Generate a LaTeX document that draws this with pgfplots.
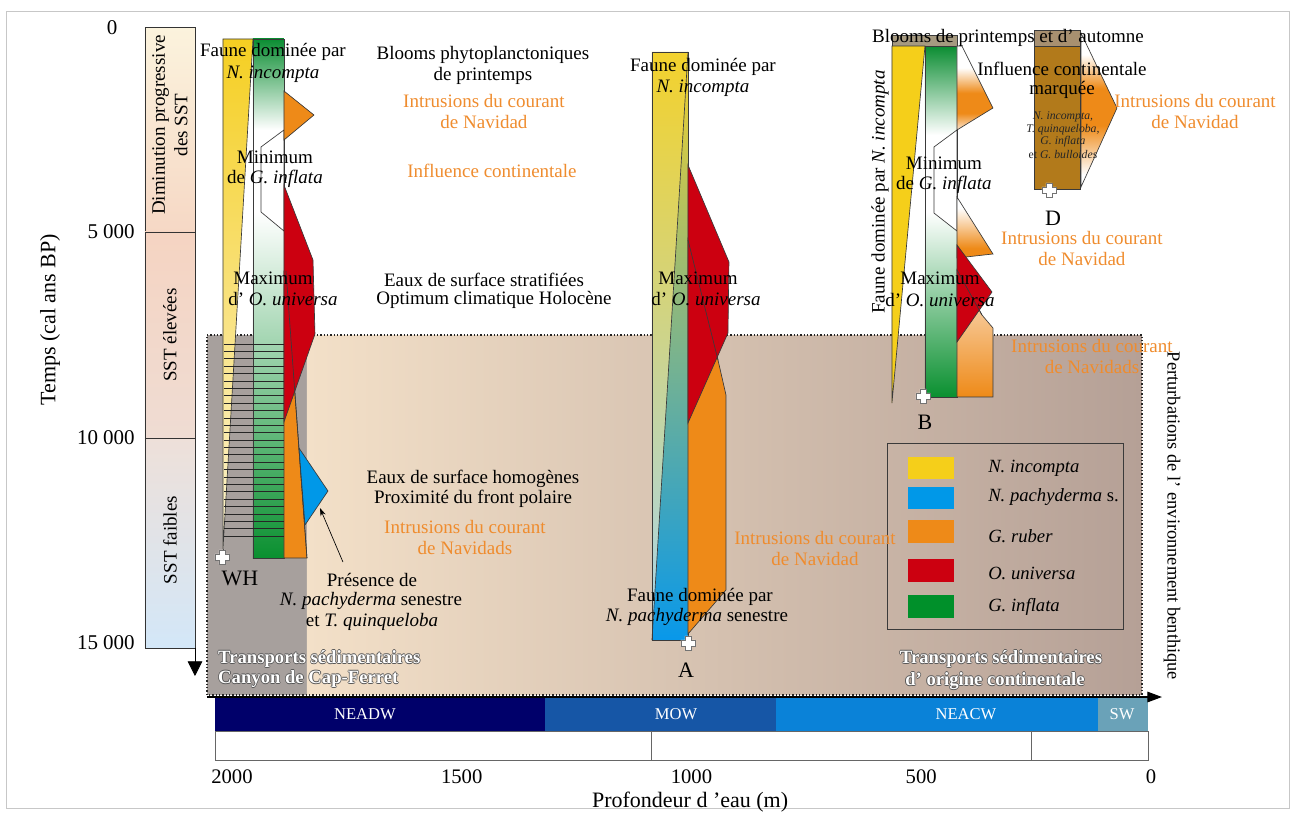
\documentclass[border=0pt]{standalone}
\usepackage{fontspec}
\setmainfont{Liberation Serif}
\usepackage{pgfplots}
\pgfplotsset{compat=1.18}
\usetikzlibrary{arrows.meta}

\definecolor{cyel}{HTML}{F5CF1A}
\definecolor{cblu}{HTML}{0098E8}
\definecolor{cora}{HTML}{EE8A18}
\definecolor{cred}{HTML}{CC0010}
\definecolor{cgrn}{HTML}{00902A}
\definecolor{ctxt}{HTML}{EF8C2E}
\definecolor{cline}{HTML}{3A3A3A}
\definecolor{bgGrey}{HTML}{A7A09D}
\definecolor{bgL}{HTML}{F3E0C8}
\definecolor{bgR}{HTML}{B5A096}
\definecolor{sstA}{HTML}{FBF3DD}
\definecolor{sstB}{HTML}{F6D8C5}
\definecolor{sstC}{HTML}{F5D4C2}
\definecolor{sstD}{HTML}{EFDCD3}
\definecolor{sstE}{HTML}{EEE0D9}
\definecolor{sstF}{HTML}{D3E7F8}
\definecolor{wmA}{HTML}{00006A}
\definecolor{wmB}{HTML}{1656A6}
\definecolor{wmC}{HTML}{0A82D8}
\definecolor{wmD}{HTML}{6AA2B8}
\definecolor{ylTop}{HTML}{F5CF22}
\definecolor{ylBot}{HTML}{FCF3D2}
\definecolor{gTop}{HTML}{0B8D32}
\definecolor{gMid}{HTML}{7CBF93}
\definecolor{gBot}{HTML}{0A9030}
\definecolor{aLa}{HTML}{F3D22C}
\definecolor{aLb}{HTML}{D8DCB2}
\definecolor{aLc}{HTML}{A6D6EE}
\definecolor{aRa}{HTML}{F2D02C}
\definecolor{aRb}{HTML}{84B4AE}
\definecolor{aRc}{HTML}{0898EA}
\definecolor{bBar}{HTML}{A69A80}
\definecolor{oPale}{HTML}{FBE6D2}
\definecolor{oTop}{HTML}{FBE5D0}
\definecolor{oMid}{HTML}{F2A650}
\definecolor{dBar}{HTML}{A89070}
\definecolor{dCol}{HTML}{B27A1B}

% vertical shadings: the path box maps to 25bp (bottom) .. 75bp (top)
\pgfdeclareverticalshading{oBone}{100bp}{color(0bp)=(oPale); color(25bp)=(oPale); color(35bp)=(cora); color(47bp)=(cora); color(62bp)=(white); color(100bp)=(white)}
\pgfdeclareverticalshading{oBtwo}{100bp}{color(0bp)=(cora); color(33bp)=(cora); color(66bp)=(white); color(100bp)=(white)}
\pgfdeclareverticalshading{oD}{100bp}{color(0bp)=(white); color(29bp)=(white); color(45bp)=(cora); color(57bp)=(cora); color(68bp)=(white); color(100bp)=(white)}

% white cross used for the core positions
\pgfdeclareplotmark{wcross}{%
  \pgfpathmoveto{\pgfqpoint{-2.3pt}{-5.3pt}}%
  \pgfpathlineto{\pgfqpoint{2.3pt}{-5.3pt}}%
  \pgfpathlineto{\pgfqpoint{2.3pt}{-2.3pt}}%
  \pgfpathlineto{\pgfqpoint{5.3pt}{-2.3pt}}%
  \pgfpathlineto{\pgfqpoint{5.3pt}{2.3pt}}%
  \pgfpathlineto{\pgfqpoint{2.3pt}{2.3pt}}%
  \pgfpathlineto{\pgfqpoint{2.3pt}{5.3pt}}%
  \pgfpathlineto{\pgfqpoint{-2.3pt}{5.3pt}}%
  \pgfpathlineto{\pgfqpoint{-2.3pt}{2.3pt}}%
  \pgfpathlineto{\pgfqpoint{-5.3pt}{2.3pt}}%
  \pgfpathlineto{\pgfqpoint{-5.3pt}{-2.3pt}}%
  \pgfpathlineto{\pgfqpoint{-2.3pt}{-2.3pt}}%
  \pgfpathclose
  \pgfusepathqfillstroke}

\newcommand{\fm}{\fontsize{14.25}{17}\selectfont}
\newcommand{\fb}{\fontsize{14}{17}\selectfont\bfseries}
\newcommand{\T}[3]{\node[font=\fm,inner sep=0pt] at (axis cs:#1,#2) {#3};}
\newcommand{\TO}[3]{\node[font=\fm,inner sep=0pt,text=ctxt] at (axis cs:#1,#2) {#3};}
\newcommand{\TW}[4]{%
  \node[font=\fb,inner sep=0pt,anchor=#3,text=black!65,xshift=0.6pt] at (axis cs:#1,#2) {#4};
  \node[font=\fb,inner sep=0pt,anchor=#3,text=black!65,xshift=-0.6pt] at (axis cs:#1,#2) {#4};
  \node[font=\fb,inner sep=0pt,anchor=#3,text=black!65,yshift=0.6pt] at (axis cs:#1,#2) {#4};
  \node[font=\fb,inner sep=0pt,anchor=#3,text=black!65,yshift=-0.6pt] at (axis cs:#1,#2) {#4};
  \node[font=\fb,inner sep=0pt,anchor=#3,text=white] at (axis cs:#1,#2) {#4};}

\begin{document}
\begin{tikzpicture}
\begin{axis}[
  scale only axis, width=975pt, height=609.75pt,
  xmin=-324.3, xmax=2504.9, ymin=-605.8, ymax=19094.8,
  x dir=reverse, y dir=reverse,
  hide axis, clip=false,
  shp/.style={draw=cline, line width=0.5pt},
]
% page extent and frame
\addplot[draw=none] coordinates {(2504.9,-605.8) (-324.3,19094.8)};
\addplot[draw=black!22, line width=0.75pt] coordinates {(2489.7,-339) (-302.5,-339) (-302.5,18974) (2489.7,18974)} -- cycle;

% benthic disturbance zone
\addplot[fill=bgGrey, draw=none] coordinates {(2054.4,7512) (1836.8,7512) (1836.8,16235) (2054.4,16235)} -- cycle;
\addplot[left color=bgL, right color=bgR, draw=none] coordinates {(1836.8,7512) (19.6,7512) (19.6,16235) (1836.8,16235)} -- cycle;
\addplot[draw=black!85, line width=0.9pt, dash pattern=on 0.9pt off 1.6pt] coordinates {(2054.4,7512) (19.6,7512) (19.6,16235) (2054.4,16235)} -- cycle;

% SST column
\addplot[top color=sstA, bottom color=sstB, draw=black!80, line width=0.6pt] coordinates {(2189.4,48.5) (2080.5,48.5) (2080.5,5016) (2189.4,5016)} -- cycle;
\addplot[top color=sstC, bottom color=sstD, draw=black!80, line width=0.6pt] coordinates {(2189.4,5016) (2080.5,5016) (2080.5,10008) (2189.4,10008)} -- cycle;
\addplot[top color=sstE, bottom color=sstF, draw=black!80, line width=0.6pt] coordinates {(2189.4,10008) (2080.5,10008) (2080.5,15096) (2189.4,15096)} -- cycle;
\addplot[black, line width=0.6pt, -{Triangle[length=11pt,width=11pt]}] coordinates {(2080.5,15096) (2080.5,15775)};

% water masses
\addplot[fill=wmA, draw=none] coordinates {(2037,16284) (1318.8,16284) (1318.8,17108) (2037,17108)} -- cycle;
\addplot[fill=wmB, draw=none] coordinates {(1318.8,16284) (816.1,16284) (816.1,17108) (1318.8,17108)} -- cycle;
\addplot[fill=wmC, draw=none] coordinates {(816.1,16284) (115.3,16284) (115.3,17108) (816.1,17108)} -- cycle;
\addplot[fill=wmD, draw=none] coordinates {(115.3,16284) (6.5,16284) (6.5,17108) (115.3,17108)} -- cycle;
\addplot[fill=white, draw=black!60, line width=0.6pt] coordinates {(2037,17108) (6.5,17108) (6.5,17810) (2037,17810)} -- cycle;
\addplot[black!60, line width=0.6pt] coordinates {(1088.2,17108) (1088.2,17810)};
\addplot[black!60, line width=0.6pt] coordinates {(261.2,17108) (261.2,17810)};
\addplot[black, line width=0.8pt, -{Triangle[length=11pt,width=8pt]}] coordinates {(2054.4,16284) (-23.9,16284)};

% ---- core WH ----
\addplot[top color=ylTop, bottom color=ylBot, shp] coordinates {(2019.6,339) (1954.3,339) (2019.6,12698)} -- cycle;
\addplot[shp] coordinates {(2019.6,12698) (2019.6,12891)};
\addplot[top color=gTop, bottom color=white, draw=none] coordinates {(1954.3,339) (1886.9,339) (1886.9,2544) (1954.3,2544)} -- cycle;
\addplot[fill=white, draw=none] coordinates {(1954.3,2544) (1886.9,2544) (1886.9,4531) (1954.3,4531)} -- cycle;
\addplot[top color=white, middle color=gMid, bottom color=gBot, draw=none] coordinates {(1954.3,4531) (1886.9,4531) (1886.9,12916) (1954.3,12916)} -- cycle;
\addplot[shp] coordinates {(1954.3,339) (1886.9,339) (1886.9,12916) (1954.3,12916)} -- cycle;
\addplot[fill=white, shp] coordinates {(1886.9,2544) (1936.9,2956) (1936.9,4531) (1886.9,4992)} -- cycle;
\addplot[fill=cora, shp] coordinates {(1886.9,1599) (1821.6,2181) (1886.9,2787)} -- cycle;
\addplot[fill=cora, shp] coordinates {(1886.9,5961) (1882.5,5961) (1836.8,12916) (1886.9,12916)} -- cycle;
\addplot[fill=cred, shp] coordinates {(1886.9,3877) (1823.7,5695) (1819.4,7488) (1886.9,9620)} -- cycle;
\addplot[shp] coordinates {(1882.5,5961) (1836.8,12916)};
\addplot[fill=cblu, shp] coordinates {(1854.2,10250) (1791.1,11292) (1841.1,12116)} -- cycle;
\addplot[black!85, line width=0.5pt, unbounded coords=jump] table {
x y
2017.4 7730
1886.9 7730
nan nan
2017.4 7909
1886.9 7909
nan nan
2017.4 8088
1886.9 8088
nan nan
2017.4 8267
1886.9 8267
nan nan
2017.4 8446
1886.9 8446
nan nan
2017.4 8625
1886.9 8625
nan nan
2017.4 8804
1886.9 8804
nan nan
2017.4 8983
1886.9 8983
nan nan
2017.4 9162
1886.9 9162
nan nan
2017.4 9341
1886.9 9341
nan nan
2017.4 9520
1886.9 9520
nan nan
2017.4 9699
1886.9 9699
nan nan
2017.4 9878
1886.9 9878
nan nan
2017.4 10057
1886.9 10057
nan nan
2017.4 10236
1886.9 10236
nan nan
2017.4 10415
1886.9 10415
nan nan
2017.4 10594
1886.9 10594
nan nan
2017.4 10773
1886.9 10773
nan nan
2017.4 10952
1886.9 10952
nan nan
2017.4 11131
1886.9 11131
nan nan
2017.4 11310
1886.9 11310
nan nan
2017.4 11489
1886.9 11489
nan nan
2017.4 11668
1886.9 11668
nan nan
2017.4 11847
1886.9 11847
nan nan
2017.4 12026
1886.9 12026
nan nan
2017.4 12205
1886.9 12205
nan nan
2017.4 12384
1886.9 12384
};
\addplot[black, line width=0.5pt, -{Stealth[length=6pt,width=4pt]}] coordinates {(1758.5,13013) (1808.5,11704)};

% ---- core A ----
\addplot[top color=aLa, middle color=aLb, bottom color=aLc, draw=none] coordinates {(1086,654) (1007.6,654) (1086,14903)} -- cycle;
\addplot[top color=aRa, middle color=aRb, bottom color=aRc, draw=none] coordinates {(1007.6,654) (1007.6,14903) (1086,14903)} -- cycle;
\addplot[shp] coordinates {(1086,654) (1007.6,654) (1007.6,14903) (1086,14903)} -- cycle;
\addplot[shp] coordinates {(1007.6,654) (1086,14903)};
\addplot[fill=cora, shp] coordinates {(1007.6,5210) (942.3,8118) (924.9,8966) (924.9,13691) (1007.6,14757)} -- cycle;
\addplot[fill=cred, shp] coordinates {(1007.6,3393) (918.4,5743) (920.6,7464) (1007.6,9644)} -- cycle;
\addplot[shp] coordinates {(1007.6,5210) (942.3,8118)};

% ---- core B ----
\addplot[fill=bBar, shp] coordinates {(563.7,242) (422.2,242) (422.2,509) (563.7,509)} -- cycle;
\addplot[fill=cyel, shp] coordinates {(563.7,509) (491.8,509) (563.7,9160)} -- cycle;
\addplot[top color=gTop, bottom color=white, draw=none] coordinates {(491.8,509) (422.2,509) (422.2,2665) (491.8,2665)} -- cycle;
\addplot[fill=white, draw=none] coordinates {(491.8,2665) (422.2,2665) (422.2,4531) (491.8,4531)} -- cycle;
\addplot[top color=white, middle color=gMid, bottom color=gBot, draw=none] coordinates {(491.8,4531) (422.2,4531) (422.2,9014) (491.8,9014)} -- cycle;
\addplot[shp] coordinates {(491.8,509) (422.2,509) (422.2,9014) (491.8,9014)} -- cycle;
\addplot[fill=white, shp] coordinates {(422.2,2544) (472.3,2956) (472.3,4556) (422.2,4992)} -- cycle;
\addplot[shade, shading=oBone, shp] coordinates {(422.2,509) (411.3,509) (343.9,2011) (422.2,2544)} -- cycle;
\addplot[shade, shading=oBtwo, shp] coordinates {(422.2,4168) (343.9,5549) (422.2,5646)} -- cycle;
\addplot[top color=oTop, middle color=oMid, bottom color=cora, shp] coordinates {(422.2,5937) (367.8,7027) (343.9,7342) (343.9,9014) (422.2,9014)} -- cycle;
\addplot[fill=cred, shp] coordinates {(422.2,5331) (346,6470) (422.2,7682)} -- cycle;
\addplot[shp] coordinates {(422.2,5937) (367.8,7027)};

% ---- core D ----
\addplot[shade, shading=oD, shp] coordinates {(152.3,194) (74,2011) (152.3,3926)} -- cycle;
\addplot[fill=dBar, shp] coordinates {(254.6,121) (154.5,121) (154.5,509) (254.6,509)} -- cycle;
\addplot[fill=dCol, shp] coordinates {(254.6,509) (154.5,509) (154.5,3974) (254.6,3974)} -- cycle;

% core positions
\addplot[only marks, mark=wcross, mark options={fill=white, draw=black!55, line width=0.5pt}] coordinates {(2021.8,12891) (1007.6,14975) (496.2,8990) (222,3998)};

% legend
\addplot[draw=cline, line width=0.6pt] coordinates {(574.5,10129) (60.9,10129) (60.9,14636) (574.5,14636)} -- cycle;
\addplot[fill=cyel, draw=none] coordinates {(528.8,10468) (428.7,10468) (428.7,11001) (528.8,11001)} -- cycle;
\addplot[fill=cblu, draw=none] coordinates {(528.8,11195) (428.7,11195) (428.7,11728) (528.8,11728)} -- cycle;
\addplot[fill=cora, draw=none] coordinates {(528.8,11995) (428.7,11995) (428.7,12552) (528.8,12552)} -- cycle;
\addplot[fill=cred, draw=none] coordinates {(528.8,12940) (428.7,12940) (428.7,13497) (528.8,13497)} -- cycle;
\addplot[fill=cgrn, draw=none] coordinates {(528.8,13812) (428.7,13812) (428.7,14370) (528.8,14370)} -- cycle;
\node[font=\fontsize{14}{17}\selectfont\itshape, anchor=west, inner sep=0pt] at (axis cs:354.7,10735) {N. incompta};
\node[font=\fontsize{14}{17}\selectfont, anchor=west, inner sep=0pt] at (axis cs:354.7,11437) {\textit{N. pachyderma} s.};
\node[font=\fontsize{14}{17}\selectfont\itshape, anchor=west, inner sep=0pt] at (axis cs:354.7,12383) {G. ruber};
\node[font=\fontsize{14}{17}\selectfont\itshape, anchor=west, inner sep=0pt] at (axis cs:354.7,13279) {O. universa};
\node[font=\fontsize{14}{17}\selectfont\itshape, anchor=west, inner sep=0pt] at (axis cs:354.7,14103) {G. inflata};

% axes text
\node[font=\fontsize{15.75}{18}\selectfont, inner sep=0pt] at (axis cs:2261,73) {0};
\node[font=\fontsize{15.75}{18}\selectfont, inner sep=0pt, anchor=east] at (axis cs:2211,5016) {5 000};
\node[font=\fontsize{15.75}{18}\selectfont, inner sep=0pt, anchor=east] at (axis cs:2211,10008) {10 000};
\node[font=\fontsize{15.75}{18}\selectfont, inner sep=0pt, anchor=east] at (axis cs:2211,14975) {15 000};
\node[font=\fontsize{16.5}{19}\selectfont, inner sep=0pt, rotate=90] at (axis cs:2396,7148) {Temps (cal ans BP)};
\node[font=\fontsize{15.5}{18}\selectfont, inner sep=0pt] at (axis cs:2000,18222) {2000};
\node[font=\fontsize{15.5}{18}\selectfont, inner sep=0pt] at (axis cs:1500,18222) {1500};
\node[font=\fontsize{15.5}{18}\selectfont, inner sep=0pt] at (axis cs:1000,18222) {1000};
\node[font=\fontsize{15.5}{18}\selectfont, inner sep=0pt] at (axis cs:500,18222) {500};
\node[font=\fontsize{15.5}{18}\selectfont, inner sep=0pt] at (axis cs:0,18222) {0};
\node[font=\fontsize{16.5}{19}\selectfont, inner sep=0pt] at (axis cs:1003,18828) {Profondeur d ’eau (m)};
\node[font=\fontsize{13.8}{17}\selectfont, inner sep=0pt, rotate=-90] at (axis cs:-45.7,11898) {Perturbations de l’ environnement benthique};
\node[font=\fontsize{12.4}{15}\selectfont, inner sep=0pt, text=white] at (axis cs:1710.6,16696) {NEADW};
\node[font=\fontsize{12.4}{15}\selectfont, inner sep=0pt, text=white] at (axis cs:1033.7,16696) {MOW};
\node[font=\fontsize{12.4}{15}\selectfont, inner sep=0pt, text=white] at (axis cs:402.6,16696) {NEACW};
\node[font=\fontsize{12.4}{15}\selectfont, inner sep=0pt, text=white] at (axis cs:63.1,16696) {SW};

% SST column text
\node[font=\fm, inner sep=0pt, rotate=90, align=center] at (axis cs:2135,2423) {Diminution progressive\\des SST};
\node[font=\fm, inner sep=0pt, rotate=90] at (axis cs:2135,7512) {SST élevées};
\node[font=\fm, inner sep=0pt, rotate=90] at (axis cs:2135,12479) {SST faibles};

% core labels
\node[font=\fontsize{16.5}{19}\selectfont, inner sep=0pt] at (axis cs:1982.6,13400) {WH};
\node[font=\fontsize{16.5}{19}\selectfont, inner sep=0pt] at (axis cs:1012,15630) {A};
\node[font=\fontsize{16.5}{19}\selectfont, inner sep=0pt] at (axis cs:491.8,9620) {B};
\node[font=\fontsize{16.5}{19}\selectfont, inner sep=0pt] at (axis cs:213.3,4677) {D};

% annotations WH
\T{1910.8}{654}{Faune dominée par}
\T{1910.8}{1187}{\textit{N. incompta}}
\T{1906.4}{3199}{Minimum}
\T{1906.4}{3732}{de \textit{G. inflata}}
\T{1910.8}{6131}{Maximum}
\T{1889}{6640}{d’ \textit{O. universa}}
\T{1453.8}{727}{Blooms phytoplanctoniques}
\T{1453.8}{1236}{de printemps}
\TO{1451.6}{1842}{Intrusions du courant}
\TO{1451.6}{2351}{de Navidad}
\TO{1434.2}{3538}{Influence continentale}
\T{1451.6}{6179}{Eaux de surface stratifiées}
\T{1429.8}{6664}{Optimum climatique Holocène}
\T{1475.5}{11001}{Eaux de surface homogènes}
\T{1475.5}{11486}{Proximité du front polaire}
\TO{1493}{12165}{Intrusions du courant}
\TO{1493}{12673}{de Navidads}
\T{1695.3}{13449}{Présence de}
\T{1697.5}{13958}{\textit{N. pachyderma} senestre}
\T{1695.3}{14467}{et \textit{T. quinqueloba}}
\TW{2030.5}{15363}{west}{Transports sédimentaires}
\TW{2030.5}{15848}{west}{Canyon de Cap-Ferret}

% annotations A
\T{975}{1018}{Faune dominée par}
\T{975}{1527}{\textit{N. incompta}}
\T{985.9}{6131}{Maximum}
\T{968.5}{6640}{d’ \textit{O. universa}}
\TO{731.2}{12431}{Intrusions du courant}
\TO{731.2}{12940}{de Navidad}
\T{981.5}{13861}{Faune dominée par}
\T{988}{14345}{\textit{N. pachyderma} senestre}

% annotations B
\T{311.2}{315}{Blooms de printemps et d’ automne}
\node[font=\fm, inner sep=0pt, rotate=90] at (axis cs:589.8,4047) {Faune dominée par \textit{N. incompta}};
\T{450.5}{3344}{Minimum}
\T{450.5}{3877}{de \textit{G. inflata}}
\T{459.2}{6131}{Maximum}
\T{459.2}{6664}{d’ \textit{O. universa}}
\TO{150.2}{5161}{Intrusions du courant}
\TO{150.2}{5670}{de Navidad}
\TO{128.4}{7779}{Intrusions du courant}
\TO{128.4}{8287}{de Navidads}

% annotations D
\T{193.7}{1066}{Influence continentale}
\T{193.7}{1575}{marquée}
\node[font=\fontsize{8.8}{10}\selectfont\itshape, inner sep=0pt, text=black!85] at (axis cs:191.5,2229) {N. incompta,};
\node[font=\fontsize{8.8}{10}\selectfont\itshape, inner sep=0pt, text=black!85] at (axis cs:191.5,2544) {T. quinqueloba,};
\node[font=\fontsize{8.8}{10}\selectfont\itshape, inner sep=0pt, text=black!85] at (axis cs:191.5,2835) {G. inflata};
\node[font=\fontsize{8.8}{10}\selectfont, inner sep=0pt, text=black!85] at (axis cs:191.5,3150) {et \textit{G. bulloides}};
\TO{-95.8}{1842}{Intrusions du courant}
\TO{-95.8}{2351}{de Navidad}

% bottom right transport text
\TW{326.4}{15363}{center}{Transports sédimentaires}
\TW{339.5}{15896}{center}{d’ origine continentale}
\end{axis}
\end{tikzpicture}
\end{document}
